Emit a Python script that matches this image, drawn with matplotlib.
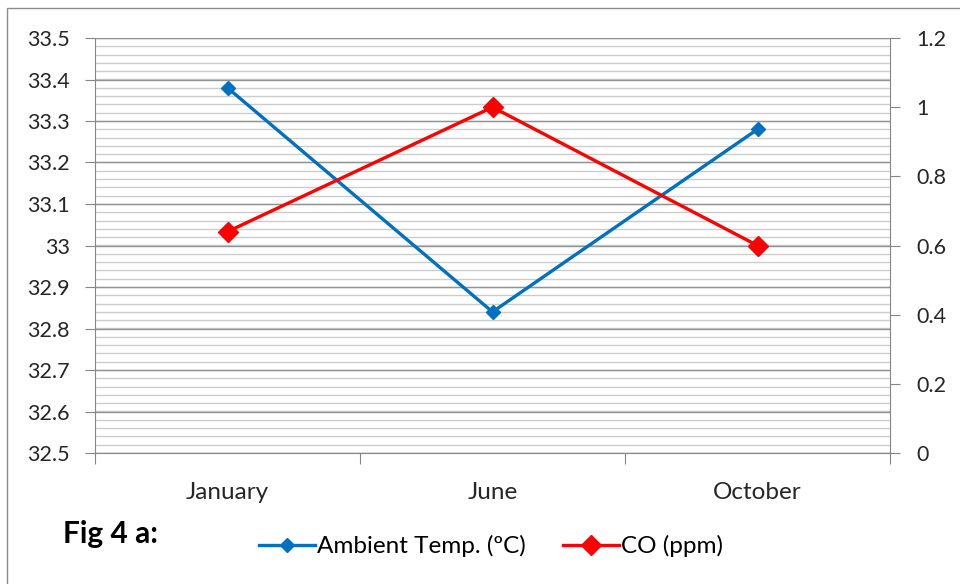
import matplotlib
matplotlib.use("Agg")
import matplotlib.pyplot as plt
from matplotlib.lines import Line2D
from matplotlib.patches import Rectangle
import numpy as np

months = ["January", "June", "October"]
ambient_temp = [33.38, 32.84, 33.28]
co_ppm = [0.64, 1.00, 0.60]

left_ticks = [32.5, 32.6, 32.7, 32.8, 32.9, 33.0, 33.1, 33.2, 33.3, 33.4, 33.5]
left_labels = ["32.5", "32.6", "32.7", "32.8", "32.9", "33", "33.1", "33.2", "33.3", "33.4", "33.5"]
right_ticks = [0, 0.2, 0.4, 0.6, 0.8, 1.0, 1.2]
right_labels = ["0", "0.2", "0.4", "0.6", "0.8", "1", "1.2"]

BLUE = "#0070C0"
RED = "#FF0000"
AXIS_GRAY = "#868686"
MAJOR_GRID = "#939393"
MINOR_GRID = "#CCCCCC"
TEXT = "#262626"
FONT = "Lato"

fig = plt.figure(figsize=(9.6, 5.84), dpi=100)
fig.patch.set_facecolor("white")

# outer chart frame
fig.add_artist(Rectangle((7 / 960, -0.05), 1.1, 1 - 8 / 584 + 0.05,
                         transform=fig.transFigure, fill=False,
                         edgecolor="#8C8C8C", linewidth=1.0))

ax = fig.add_axes([95 / 960, 1 - 453 / 584, 795 / 960, 415 / 584])
ax2 = ax.twinx()

x = np.arange(len(months))
ax.set_xlim(-0.5, len(months) - 0.5)
ax.set_ylim(32.5, 33.5)
ax2.set_ylim(0, 1.2)

# horizontal gridlines: minor every 0.02, major every 0.1
for v in np.arange(32.5, 33.5001, 0.02):
    ax.axhline(v, color=MINOR_GRID, linewidth=1.0, zorder=0)
for v in left_ticks:
    ax.axhline(v, color=MAJOR_GRID, linewidth=1.0, zorder=0.5)

ax.plot(x, ambient_temp, color=BLUE, linewidth=2.4, marker="D",
        markersize=7, zorder=3, solid_joinstyle="miter")
ax2.plot(x, co_ppm, color=RED, linewidth=2.4, marker="D",
         markersize=10, zorder=3, solid_joinstyle="miter")

for a in (ax, ax2):
    for s in a.spines.values():
        s.set_visible(False)

ax.spines["left"].set_visible(True)
ax.spines["left"].set_color(AXIS_GRAY)
ax.spines["bottom"].set_visible(True)
ax.spines["bottom"].set_color(AXIS_GRAY)
ax2.spines["right"].set_visible(True)
ax2.spines["right"].set_color(AXIS_GRAY)

ax.set_yticks(left_ticks)
ax.set_yticklabels(left_labels, fontname=FONT, fontsize=15.5, color=TEXT)
ax.tick_params(axis="y", length=7, color=AXIS_GRAY, pad=11)

ax2.set_yticks(right_ticks)
ax2.set_yticklabels(right_labels, fontname=FONT, fontsize=15.5, color=TEXT)
ax2.tick_params(axis="y", length=7, color=AXIS_GRAY, pad=12)

# category boundaries carry the tick marks; labels sit at centres
ax.set_xticks(np.arange(-0.5, len(months), 1.0))
ax.set_xticklabels([])
ax.tick_params(axis="x", length=8, color=AXIS_GRAY)
ax.set_xticks(x, minor=True)
ax.set_xticklabels(months, minor=True, fontname=FONT, fontsize=17.5, color=TEXT)
ax.tick_params(axis="x", which="minor", length=0, pad=21)

handles = [
    Line2D([], [], color=BLUE, linewidth=2.4, marker="D", markersize=7),
    Line2D([], [], color=RED, linewidth=2.4, marker="D", markersize=10),
]
fig.legend(handles, ["Ambient Temp. (\u00baC)", "CO (ppm)"],
           loc="center", bbox_to_anchor=(491 / 960, 1 - 546 / 584),
           ncol=2, frameon=False, handlelength=2.3, handletextpad=0.1,
           columnspacing=1.5, prop={"family": FONT, "size": 17.5})

fig.text(63 / 960, 1 - 534 / 584, "Fig 4 a:", fontname=FONT, fontsize=21.5,
         fontweight="bold", va="center", ha="left", color="black")

fig.savefig("out.png", dpi=100, facecolor="white")
